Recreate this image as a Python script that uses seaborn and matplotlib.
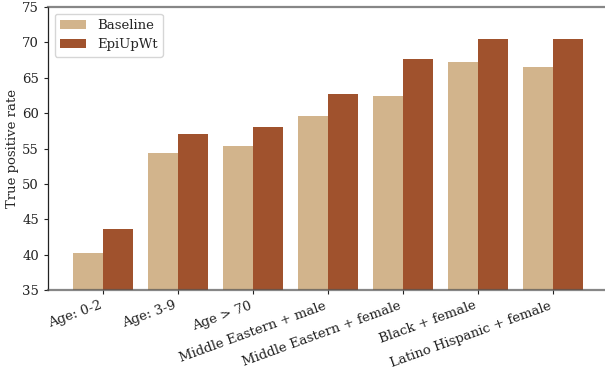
import matplotlib
matplotlib.use("Agg")
import matplotlib.pyplot as plt
import seaborn as sns
import pandas as pd

categories = ["Age: 0-2", "Age: 3-9", "Age > 70", "Middle Eastern + male",
              "Middle Eastern + female", "Black + female", "Latino Hispanic + female"]
baseline = [40.2, 54.4, 55.35, 59.6, 62.4, 67.2, 66.5]
epiupwt = [43.6, 57.05, 58.0, 62.7, 67.65, 70.5, 70.5]
methods = ["Baseline", "EpiUpWt"]
yticks = [35, 40, 45, 50, 55, 60, 65, 70, 75]

df = pd.DataFrame({
    "group": categories * 2,
    "method": [methods[0]] * len(categories) + [methods[1]] * len(categories),
    "tpr": baseline + epiupwt,
})

sns.set_style("white")
plt.rcParams["font.family"] = ["DejaVu Serif"]
fs = 9.5
plt.rcParams["font.size"] = fs

fig = plt.figure(figsize=(6.05, 3.73), dpi=100)
ax = fig.add_axes([48 / 605, (373 - 290) / 373, (608.5 - 48) / 605, (290 - 7) / 373])

sns.barplot(data=df, x="group", y="tpr", hue="method", order=categories,
            hue_order=methods, palette=["#D2B48C", "#A0522D"], ax=ax,
            saturation=1, width=0.8, linewidth=0)

ax.set_ylim(35, 75)
ax.set_yticks(yticks)
ax.set_xlim(-0.74, 6.74)
ax.set_xlabel("")
ax.set_ylabel("True positive rate", fontsize=fs, labelpad=2.5)
ax.tick_params(axis="both", which="both", length=3, width=0.8, color="#222222",
               labelsize=fs, labelcolor="#222222", bottom=True, left=True)
plt.setp(ax.get_xticklabels(), rotation=20, ha="right")

for s in ["top", "bottom"]:
    ax.spines[s].set_color("#555555")
    ax.spines[s].set_alpha(0.7)
    ax.spines[s].set_linewidth(1.6)
    ax.spines[s].set_zorder(5)
ax.spines["left"].set_color("#222222")
ax.spines["left"].set_linewidth(0.9)
ax.spines["right"].set_visible(False)

leg = ax.legend(loc="upper left", fontsize=fs, frameon=True, fancybox=True)
leg.set_title(None)

fig.savefig("out.png", dpi=100)
